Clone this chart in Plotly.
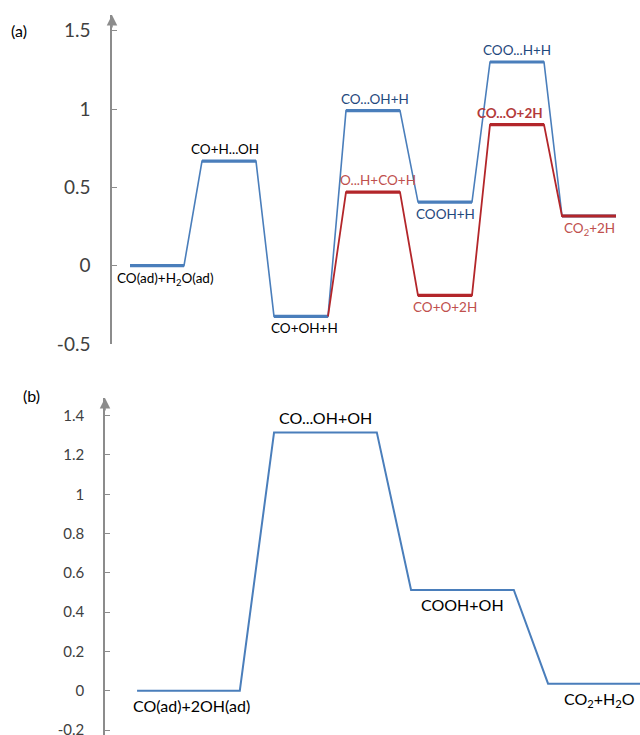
import plotly.graph_objects as go

# ---------------- data ----------------
# panel (a): energy levels (eV) for 7 states
a_states = ["CO(ad)+H<sub>2</sub>O(ad)", "CO+H...OH", "CO+OH+H", "CO...OH+H",
            "COOH+H", "COO...H+H", "CO<sub>2</sub>+2H"]
a_blue = [0.0, 0.667, -0.324, 0.99, 0.406, 1.30, 0.317]
a_red_states = [None, None, None, "O...H+CO+H", "CO+O+2H", "CO...O+2H", None]
a_red = [None, None, -0.324, 0.47, -0.19, 0.90, 0.317]

# panel (b)
b_states = ["CO(ad)+2OH(ad)", "CO...OH+OH", "COOH+OH", "CO<sub>2</sub>+H<sub>2</sub>O"]
b_vals = [0.0, 1.315, 0.513, 0.036]

a_ticks = [-0.5, 0, 0.5, 1, 1.5]
a_ticktext = ["-0.5", "0", "0.5", "1", "1.5"]
b_ticks = [-0.2, 0, 0.2, 0.4, 0.6, 0.8, 1.0, 1.2, 1.4]
b_ticktext = ["-0.2", "0", "0.2", "0.4", "0.6", "0.8", "1", "1.2", "1.4"]

# ---------------- style ----------------
BLUE = "#4A7EBB"
BLUE_TXT = "#1F497D"
RED = "#B3262A"
RED_TXT = "#C0504D"
GREY = "#8C8C8C"
FONT = "Lato"
W = 0.75  # level width in x units

FW, FH = 640, 735


def px(p):
    return p / FW


def py(p):
    return 1 - p / FH


def level_xy(vals, start_idx=0):
    xs, ys = [], []
    for i, v in enumerate(vals):
        if v is None or i < start_idx:
            continue
        xs += [i, i + W, None]
        ys += [v, v, None]
    return xs, ys


def path_xy(vals, first_right_only=False):
    xs, ys = [], []
    first = True
    for i, v in enumerate(vals):
        if v is None:
            continue
        if first and first_right_only:
            xs += [i + W]
            ys += [v]
        else:
            xs += [i, i + W]
            ys += [v, v]
        first = False
    return xs, ys


fig = go.Figure()

# panel (a) blue
x, y = path_xy(a_blue)
fig.add_trace(go.Scatter(x=x, y=y, mode="lines", line=dict(color=BLUE, width=1.6),
                         xaxis="x", yaxis="y", hoverinfo="skip"))
x, y = level_xy(a_blue)
fig.add_trace(go.Scatter(x=x, y=y, mode="lines", line=dict(color=BLUE, width=3.2),
                         xaxis="x", yaxis="y", hoverinfo="skip"))
# panel (a) red
x, y = path_xy(a_red, first_right_only=True)
fig.add_trace(go.Scatter(x=x, y=y, mode="lines", line=dict(color=RED, width=1.8),
                         xaxis="x", yaxis="y", hoverinfo="skip"))
x, y = level_xy(a_red, start_idx=3)
fig.add_trace(go.Scatter(x=x, y=y, mode="lines", line=dict(color=RED, width=3.2),
                         xaxis="x", yaxis="y", hoverinfo="skip"))

# panel (b)
x, y = path_xy(b_vals)
x[-1] = len(b_vals) - 1 + 1.0
fig.add_trace(go.Scatter(x=x, y=y, mode="lines", line=dict(color=BLUE, width=2.0),
                         xaxis="x2", yaxis="y2", hoverinfo="skip"))

ann = []


def lab(xc, yv, text, color, size, above, xref, yref, shift, bold=False, dx=0):
    t = f"<b>{text}</b>" if bold else text
    ann.append(dict(x=xc, y=yv, xref=xref, yref=yref, text=t, showarrow=False,
                    font=dict(family=FONT, size=size, color=color),
                    yanchor="bottom" if above else "top",
                    yshift=shift if above else -shift, xshift=dx))


# panel (a) labels
a_above = [False, True, False, True, False, True, False]
a_dx = [8, -4, 3, 2, 0, 0, 0]
for i, (s, v) in enumerate(zip(a_states, a_blue)):
    if i == 6:
        continue
    col = BLUE_TXT if i in (3, 4, 5) else "#000000"
    lab(i + W / 2, v, s, col, 13.5, a_above[i], "x", "y", 2, dx=a_dx[i])
lab(6 + W / 2, a_blue[6], a_states[6], RED_TXT, 13.5, False, "x", "y", 2, dx=0)
for i, s in enumerate(a_red_states):
    if s is None:
        continue
    above = i != 4
    lab(i + W / 2, a_red[i], s, RED_TXT if i != 5 else "#B33A3A", 13.5, above, "x", "y", 2,
        bold=(i == 5), dx=(5 if i == 3 else (-7 if i == 5 else 0)))

# panel (b) labels
b_above = [False, True, False, False]
b_dx = [3, 0, 0, 0]
for i, (s, v) in enumerate(zip(b_states, b_vals)):
    lab(i + W / 2, v, s, "#000000", 16, b_above[i], "x2", "y2", 3, dx=b_dx[i])

# panel letters
ann.append(dict(x=px(19), y=py(30), xref="paper", yref="paper", text="(a)",
                showarrow=False, font=dict(family=FONT, size=16, color="#000"),
                xanchor="center", yanchor="middle"))
ann.append(dict(x=px(31), y=py(395), xref="paper", yref="paper", text="(b)",
                showarrow=False, font=dict(family=FONT, size=16, color="#000"),
                xanchor="center", yanchor="middle"))

# axis arrows
a_x0, a_ytop = -0.25, 1.6
b_x0, b_ytop = -0.234, 1.49
ann.append(dict(x=a_x0, y=a_ytop, xref="x", yref="y", ax=0, ay=14, text="",
                showarrow=True, arrowhead=2, arrowsize=1.4, arrowwidth=1.5, arrowcolor=GREY))
ann.append(dict(x=b_x0, y=b_ytop, xref="x2", yref="y2", ax=0, ay=14, text="",
                showarrow=True, arrowhead=2, arrowsize=1.4, arrowwidth=1.5, arrowcolor=GREY))

yax_common = dict(showgrid=False, zeroline=False, showline=True, linecolor=GREY, linewidth=1.5,
                  ticks="inside", ticklen=5, tickcolor=GREY, tickwidth=1,
                  tickmode="array", ticklabelstandoff=16, ticklabeloverflow="allow")

fig.update_layout(
    width=FW, height=FH, margin=dict(l=0, r=0, t=0, b=0, autoexpand=False),
    paper_bgcolor="white", plot_bgcolor="white", showlegend=False,
    xaxis=dict(domain=[px(112), 1], range=[a_x0, a_x0 + 528 / 72], visible=False,
               anchor="y"),
    yaxis=dict(domain=[py(344), py(15)], range=[-0.5, a_ytop], anchor="x",
               tickvals=a_ticks, ticktext=a_ticktext,
               tickfont=dict(family=FONT, size=19, color="#404040"), **yax_common),
    xaxis2=dict(domain=[px(105), 1], range=[b_x0, b_x0 + 535 / 137], visible=False,
                anchor="y2"),
    yaxis2=dict(domain=[py(735), py(398)], range=[-0.2 - 5 / 197, b_ytop], anchor="x2",
                tickvals=b_ticks, ticktext=b_ticktext,
                tickfont=dict(family=FONT, size=15, color="#404040"), **yax_common),
    annotations=ann,
)

fig.write_html(
    "out.html",
    config={"displayModeBar": False},
    post_script="document.body.style.margin='0';document.body.style.overflow='hidden';"
                "document.documentElement.style.overflow='hidden';",
)
